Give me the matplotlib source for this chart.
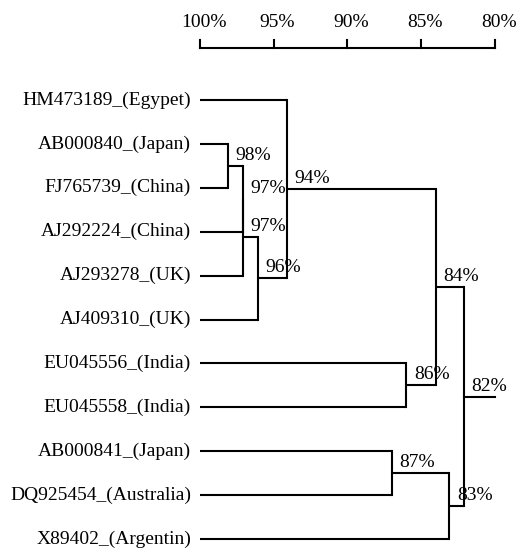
import matplotlib
matplotlib.use("Agg")
import matplotlib.pyplot as plt

plt.rcParams['font.family'] = ['Liberation Serif', 'DejaVu Serif']

# leaves, top to bottom
leaves = ["HM473189_(Egypet)", "AB000840_(Japan)", "FJ765739_(China)",
          "AJ292224_(China)", "AJ293278_(UK)", "AJ409310_(UK)",
          "EU045556_(India)", "EU045558_(India)", "AB000841_(Japan)",
          "DQ925454_(Australia)", "X89402_(Argentin)"]

# merges: child a, child b, similarity (%). leaves are 0..10, new nodes 11, 12, ...
merge_a = [1, 11, 12, 13, 0, 6, 15, 8, 18, 17]
merge_b = [2, 3, 4, 5, 14, 7, 16, 9, 10, 19]
merge_sim = [98.1, 97.1, 97.1, 96.1, 94.1, 86.0, 84.0, 87.0, 83.1, 82.1]
merge_label = ["98%", "97%", "97%", "96%", "94%", "86%", "84%", "87%", "83%", "82%"]

root_end = 80
scale_ticks = [100, 95, 90, 85, 80]

fig = plt.figure(figsize=(5.24, 5.48), dpi=100)
ax = fig.add_axes([0, 0, 1, 1])
ax.set_xlim(113.56, 78.03)
ax.set_ylim(10.205, -2.278)
ax.axis('off')

lw = 1.5
fs = 14
pos_y = {i: float(i) for i in range(len(leaves))}
pos_h = {i: 100.0 for i in range(len(leaves))}

for i, name in enumerate(leaves):
    ax.text(100.6, i, name, ha='right', va='center', fontsize=fs)

for k in range(len(merge_sim)):
    a, b, h = merge_a[k], merge_b[k], merge_sim[k]
    ya, yb = pos_y[a], pos_y[b]
    ax.plot([pos_h[a], h], [ya, ya], color='black', lw=lw, solid_capstyle='butt')
    ax.plot([pos_h[b], h], [yb, yb], color='black', lw=lw, solid_capstyle='butt')
    ax.plot([h, h], [ya, yb], color='black', lw=lw, solid_capstyle='projecting')
    node = len(leaves) + k
    pos_y[node] = (ya + yb) / 2
    pos_h[node] = h
    ax.annotate(merge_label[k], (h, pos_y[node]), xytext=(5.5, 4.3),
                textcoords='offset points', ha='left', va='baseline', fontsize=fs)

root = len(leaves) + len(merge_sim) - 1
ax.plot([pos_h[root], root_end], [pos_y[root], pos_y[root]], color='black', lw=lw)

# scale bar
bar_y = -1.185
ax.plot([scale_ticks[0], scale_ticks[-1]], [bar_y, bar_y], color='black', lw=lw,
        solid_capstyle='projecting')
for t in scale_ticks:
    ax.plot([t, t], [bar_y, bar_y - 0.18], color='black', lw=lw)
    ax.text(t - 0.25, -1.77, f"{t}%", ha='center', va='center', fontsize=fs)

fig.savefig("out.png", dpi=100)
